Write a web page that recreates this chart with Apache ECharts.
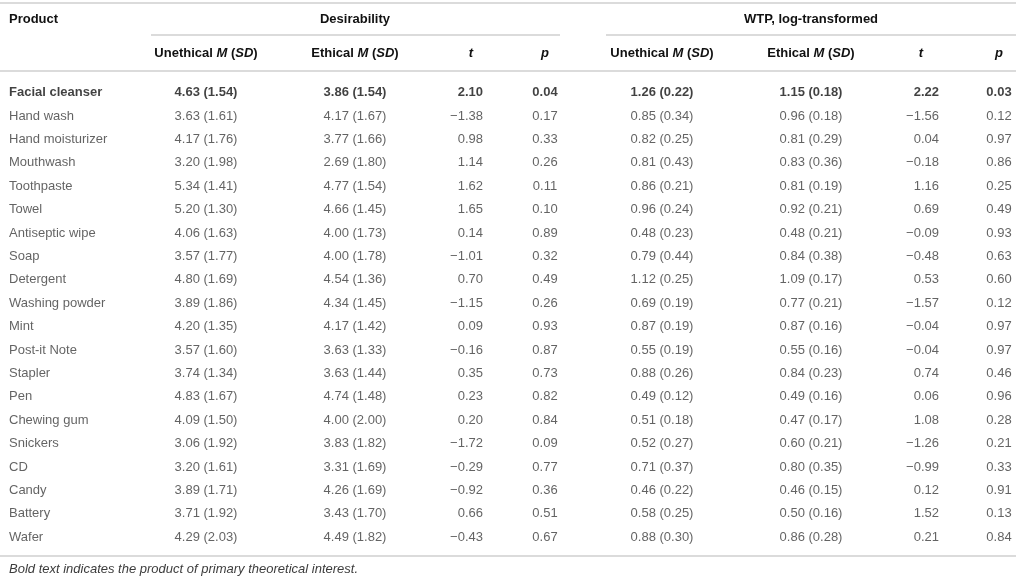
<!DOCTYPE html>
<html>
<head>
<meta charset="utf-8">
<script src="https://cdn.jsdelivr.net/npm/echarts@6/dist/echarts.min.js"></script>
<style>
html,body{margin:0;padding:0;background:#fff;}
#table{width:1016px;height:580px;}
</style>
</head>
<body>
<div id="table"></div>
<script>
// table data
var products = ['Facial cleanser','Hand wash','Hand moisturizer','Mouthwash','Toothpaste','Towel','Antiseptic wipe','Soap','Detergent','Washing powder','Mint','Post-it Note','Stapler','Pen','Chewing gum','Snickers','CD','Candy','Battery','Wafer'];

var desUnethM  = [4.63,3.63,4.17,3.20,5.34,5.20,4.06,3.57,4.80,3.89,4.20,3.57,3.74,4.83,4.09,3.06,3.20,3.89,3.71,4.29];
var desUnethSD = [1.54,1.61,1.76,1.98,1.41,1.30,1.63,1.77,1.69,1.86,1.35,1.60,1.34,1.67,1.50,1.92,1.61,1.71,1.92,2.03];
var desEthM    = [3.86,4.17,3.77,2.69,4.77,4.66,4.00,4.00,4.54,4.34,4.17,3.63,3.63,4.74,4.00,3.83,3.31,4.26,3.43,4.49];
var desEthSD   = [1.54,1.67,1.66,1.80,1.54,1.45,1.73,1.78,1.36,1.45,1.42,1.33,1.44,1.48,2.00,1.82,1.69,1.69,1.70,1.82];
var desT       = [2.10,-1.38,0.98,1.14,1.62,1.65,0.14,-1.01,0.70,-1.15,0.09,-0.16,0.35,0.23,0.20,-1.72,-0.29,-0.92,0.66,-0.43];
var desP       = [0.04,0.17,0.33,0.26,0.11,0.10,0.89,0.32,0.49,0.26,0.93,0.87,0.73,0.82,0.84,0.09,0.77,0.36,0.51,0.67];

var wtpUnethM  = [1.26,0.85,0.82,0.81,0.86,0.96,0.48,0.79,1.12,0.69,0.87,0.55,0.88,0.49,0.51,0.52,0.71,0.46,0.58,0.88];
var wtpUnethSD = [0.22,0.34,0.25,0.43,0.21,0.24,0.23,0.44,0.25,0.19,0.19,0.19,0.26,0.12,0.18,0.27,0.37,0.22,0.25,0.30];
var wtpEthM    = [1.15,0.96,0.81,0.83,0.81,0.92,0.48,0.84,1.09,0.77,0.87,0.55,0.84,0.49,0.47,0.60,0.80,0.46,0.50,0.86];
var wtpEthSD   = [0.18,0.18,0.29,0.36,0.19,0.21,0.21,0.38,0.17,0.21,0.16,0.16,0.23,0.16,0.17,0.21,0.35,0.15,0.16,0.28];
var wtpT       = [2.22,-1.56,0.04,-0.18,1.16,0.69,-0.09,-0.48,0.53,-1.57,-0.04,-0.04,0.74,0.06,1.08,-1.26,-0.99,0.12,1.52,0.21];
var wtpP       = [0.03,0.12,0.97,0.86,0.25,0.49,0.93,0.63,0.60,0.12,0.97,0.97,0.46,0.96,0.28,0.21,0.33,0.91,0.13,0.84];

var groupTitles = ['Desirability', 'WTP, log-transformed'];
var footnote = 'Bold text indicates the product of primary theoretical interest.';

// layout (pixel columns on a 0..1016 value axis)
var FONT = '"Liberation Sans", Arial, sans-serif';
var TXT = '#3c3c3c';
var RULE = '#cfcfcf';

function fmt(v) {
    var s = Math.abs(v).toFixed(2);
    return v < 0 ? '\u2212' + s : s;
}
function msd(m, sd) {
    return function (i) { return fmt(m[i]) + ' (' + fmt(sd[i]) + ')'; };
}
function one(a) {
    return function (i) { return fmt(a[i]); };
}
function name(i) { return products[i]; }

var columns = [
    {x: 9,   align: 'left',   text: name},
    {x: 206, align: 'center', text: msd(desUnethM, desUnethSD)},
    {x: 355, align: 'center', text: msd(desEthM, desEthSD)},
    {x: 483, align: 'right',  text: one(desT)},
    {x: 545, align: 'center', text: one(desP)},
    {x: 662, align: 'center', text: msd(wtpUnethM, wtpUnethSD)},
    {x: 811, align: 'center', text: msd(wtpEthM, wtpEthSD)},
    {x: 939, align: 'right',  text: one(wtpT)},
    {x: 999, align: 'center', text: one(wtpP)}
];

var series = columns.map(function (col) {
    return {
        type: 'scatter',
        symbolSize: 0,
        silent: true,
        data: products.map(function (p, i) {
            return {
                value: [col.x, p],
                label: {
                    formatter: col.text(i),
                    fontWeight: i === 0 ? 'bold' : 'normal',
                    color: i === 0 ? '#111' : TXT
                }
            };
        }),
        label: {
            show: true,
            position: 'inside',
            align: col.align,
            verticalAlign: 'middle',
            fontFamily: FONT,
            fontSize: 13
        }
    };
});

var rich = {
    b: {fontFamily: FONT, fontSize: 13, fontWeight: 'bold', fill: '#111'},
    i: {fontFamily: FONT, fontSize: 13, fontWeight: 'bold', fontStyle: 'italic', fill: '#111'}
};
function hdr(x, y, text, align) {
    return {type: 'text', x: x, y: y, silent: true,
        style: {text: text, rich: rich, align: align || 'center', verticalAlign: 'middle',
                font: 'bold 13px ' + FONT, fill: '#111'}};
}
function rule(x1, y, x2) {
    return {type: 'line', silent: true, shape: {x1: x1, y1: y, x2: x2, y2: y},
        style: {stroke: RULE, lineWidth: 1.5}};
}

var H1 = 19, H2 = 53;
var graphics = [
    rule(0, 3, 1016),
    hdr(9, H1, '{b|Product}', 'left'),
    hdr(355, H1, '{b|' + groupTitles[0] + '}'),
    hdr(811, H1, '{b|' + groupTitles[1] + '}'),
    rule(151, 35, 560),
    rule(606, 35, 1016),
    hdr(206, H2, '{b|Unethical }{i|M}{b| (}{i|SD}{b|)}'),
    hdr(355, H2, '{b|Ethical }{i|M}{b| (}{i|SD}{b|)}'),
    hdr(471, H2, '{i|t}'),
    hdr(545, H2, '{i|p}'),
    hdr(662, H2, '{b|Unethical }{i|M}{b| (}{i|SD}{b|)}'),
    hdr(811, H2, '{b|Ethical }{i|M}{b| (}{i|SD}{b|)}'),
    hdr(921, H2, '{i|t}'),
    hdr(999, H2, '{i|p}'),
    rule(0, 71, 1016),
    rule(0, 556, 1016),
    {type: 'text', x: 9, y: 569, silent: true,
        style: {text: footnote, font: 'italic 13px ' + FONT, fill: TXT, verticalAlign: 'middle'}}
];

var myChart = echarts.init(document.getElementById('table'));
var option = {
    animation: false,
    grid: {left: 0, right: 0, top: 81, height: 468},
    xAxis: {type: 'value', min: 0, max: 1016, show: false},
    yAxis: {type: 'category', data: products, inverse: true, show: false},
    graphic: graphics,
    series: series
};
myChart.setOption(option);
</script>
</body>
</html>
